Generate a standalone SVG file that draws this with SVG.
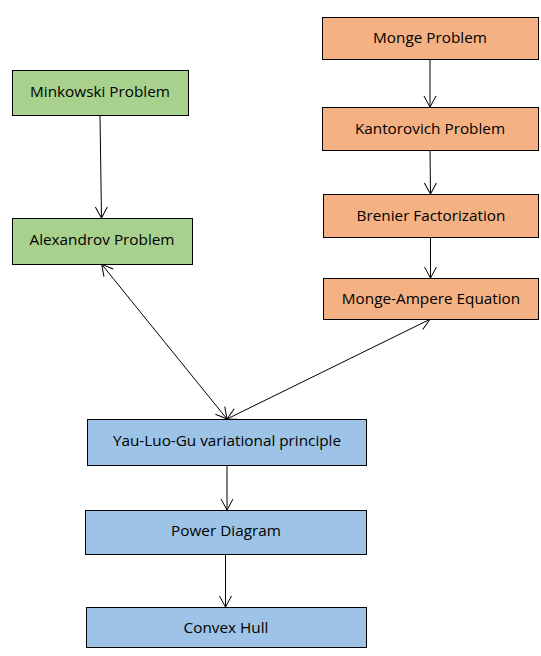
<svg xmlns="http://www.w3.org/2000/svg" width="541" height="656" viewBox="0 0 541 656">
<style>
.box{stroke:#000;stroke-width:1}
.g{fill:#A9D18E}.o{fill:#F4B183}.b{fill:#9DC3E6}
text{font-family:"Open Sans","Liberation Sans",sans-serif;font-size:15.3px;fill:#000;text-anchor:middle;dominant-baseline:central}
.c line{stroke:#000;stroke-width:1;fill:none}
</style>
<defs>
<marker id="ah" markerUnits="userSpaceOnUse" markerWidth="14" markerHeight="14" refX="12" refY="7" orient="auto-start-reverse">
<path d="M1,1 L12,7 L1,13" fill="none" stroke="#000" stroke-width="1"/>
</marker>
</defs>
<rect width="541" height="656" fill="#fff"/>
<g class="c">
<line x1="100" y1="115" x2="101.5" y2="218" marker-end="url(#ah)"/>
<line x1="430" y1="59" x2="430" y2="107" marker-end="url(#ah)"/>
<line x1="430" y1="150" x2="430.5" y2="194" marker-end="url(#ah)"/>
<line x1="430.5" y1="237" x2="430.5" y2="278" marker-end="url(#ah)"/>
<line x1="101.7" y1="264.3" x2="227" y2="419" marker-start="url(#ah)" marker-end="url(#ah)"/>
<line x1="430" y1="319.3" x2="227" y2="419" marker-start="url(#ah)" marker-end="url(#ah)"/>
<line x1="227" y1="465" x2="227" y2="510" marker-end="url(#ah)"/>
<line x1="225.5" y1="554" x2="225.5" y2="607" marker-end="url(#ah)"/>
</g>
<g id="minkowski"><rect class="box g" x="12.5" y="70.5" width="176" height="45"/><text x="100" y="91">Minkowski Problem</text></g>
<g id="alexandrov"><rect class="box g" x="12.5" y="218.5" width="180" height="46"/><text x="102" y="239">Alexandrov Problem</text></g>
<g id="monge"><rect class="box o" x="322.5" y="17.5" width="216" height="42"/><text x="430" y="37">Monge Problem</text></g>
<g id="kantorovich"><rect class="box o" x="322.5" y="107.5" width="216" height="43"/><text x="430" y="128">Kantorovich Problem</text></g>
<g id="brenier"><rect class="box o" x="323.5" y="194.5" width="215" height="43"/><text x="431" y="215">Brenier Factorization</text></g>
<g id="mongeampere"><rect class="box o" x="323.5" y="278.5" width="215" height="41"/><text x="431" y="298">Monge-Ampere Equation</text></g>
<g id="yau"><rect class="box b" x="87.5" y="419.5" width="279" height="46"/><text x="227" y="440">Yau-Luo-Gu variational principle</text></g>
<g id="power"><rect class="box b" x="85.5" y="510.5" width="281" height="44"/><text x="226" y="530">Power Diagram</text></g>
<g id="convex"><rect class="box b" x="86.5" y="607.5" width="280" height="40"/><text x="226" y="627">Convex Hull</text></g>
</svg>
